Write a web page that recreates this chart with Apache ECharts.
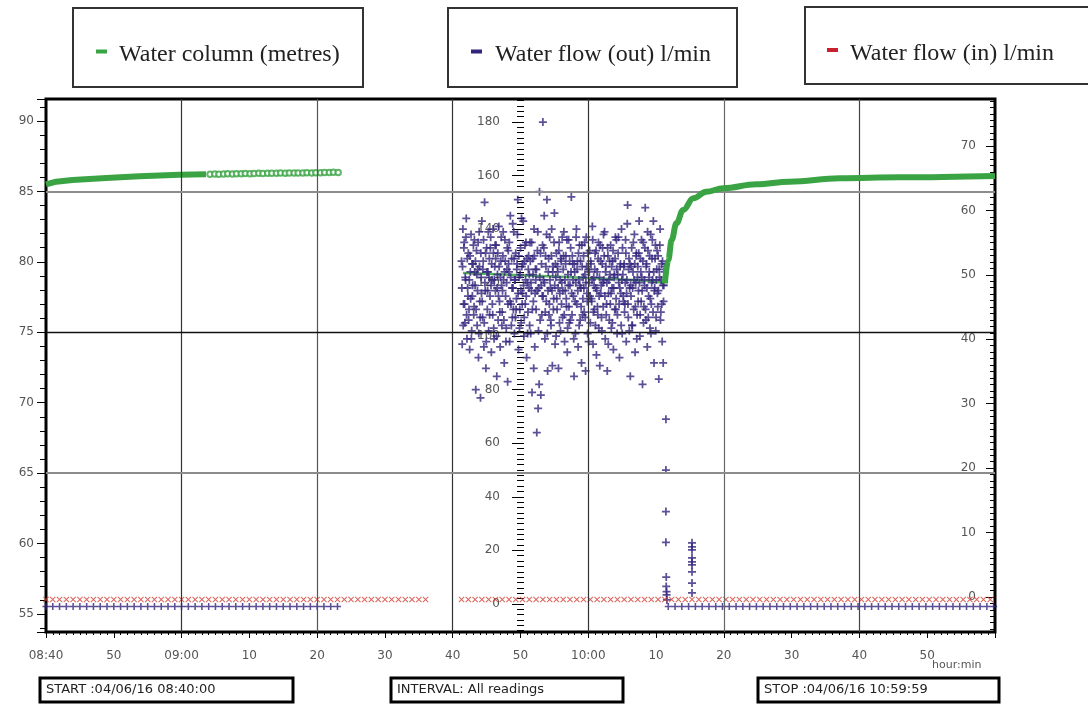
<!DOCTYPE html>
<html>
<head>
<meta charset="utf-8">
<script src="https://cdn.jsdelivr.net/npm/echarts@6/dist/echarts.min.js"></script>
<style>
  html, body { margin: 0; padding: 0; background: #fff; }
  #chart { width: 1088px; height: 704px; }
</style>
</head>
<body>
<div id="chart"></div>
<script>
// x values are minutes after 08:40
const xTickLabels = ['08:40', '50', '09:00', '10', '20', '30', '40', '50', '10:00', '10', '20', '30', '40', '50', ''];

// water column (metres), left axis
const colLeftTimes = [0, 1.5, 3.9, 8.9, 13.8, 19.7, 23.6];
const colLeftValues = [85.5, 85.69, 85.81, 85.95, 86.07, 86.19, 86.22];
const colCircleTimes = [24.2, 24.9, 25.5, 26.2, 26.8, 27.5, 28.1, 28.8, 29.4, 30.1, 30.7, 31.4, 32.0, 32.7, 33.3,
  34.0, 34.6, 35.3, 35.9, 36.6, 37.2, 37.9, 38.5, 39.2, 39.8, 40.5, 41.1, 41.8, 42.4, 43.1];
const colCircleValues = [86.22, 86.23, 86.22, 86.24, 86.25, 86.24, 86.26, 86.25, 86.27, 86.26, 86.27, 86.28, 86.27, 86.29, 86.28,
  86.29, 86.3, 86.29, 86.3, 86.31, 86.3, 86.31, 86.32, 86.31, 86.33, 86.32, 86.34, 86.35, 86.36, 86.35];
const colMidTimes = [61.5, 65, 70, 75, 80, 85, 89, 91.2];
const colMidValues = [79.2, 79.15, 79.05, 78.95, 78.85, 78.75, 78.65, 78.5];
const colRightTimes = [91.3, 91.8, 92.3, 93.0, 94.0, 95.5, 97.4, 99.9, 104.8, 109.7, 117.1, 126, 140];
const colRightValues = [78.47, 80.13, 81.55, 82.74, 83.68, 84.51, 84.98, 85.22, 85.51, 85.69, 85.93, 86.0, 86.1];

// water flow (out) l/min, middle axis: two logger channels, each read every 6 s
const flowOutStart = 61.3;
const flowOutStep = 0.1;
const flowOutValues = [
  128, 97, 140, 112, 135, 105, 121, 144, 99, 118,
  131, 110, 95, 124, 138, 102, 115, 127, 108, 136,
  119, 80, 132, 104, 125, 92, 139, 113, 77, 122,
  143, 107, 128, 96, 150, 117, 88, 133, 110, 124,
  102, 129, 115, 137, 94, 121, 108, 131, 99, 126,
  117, 134, 85, 123, 106, 141, 113, 96, 128, 119,
  109, 130, 121, 90, 136, 115, 103, 125, 83, 132,
  124, 98, 145, 112, 129, 107, 118, 139, 101, 121,
  131, 114, 127, 151, 95, 122, 110, 133, 105, 126,
  116, 143, 100, 128, 112, 135, 92, 120, 109, 130,
  123, 135, 101, 117, 79, 129, 113, 140, 96, 125,
  110, 64, 132, 73, 118, 154, 106, 78, 127, 115,
  180, 121, 145, 99, 130, 113, 151, 87, 124, 108,
  137, 118, 104, 140, 89, 126, 114, 146, 97, 122,
  131, 110, 124, 88, 135, 116, 102, 128, 120, 107,
  125, 139, 98, 117, 130, 111, 94, 123, 136, 105,
  119, 133, 152, 108, 127, 115, 85, 124, 101, 137,
  112, 128, 96, 121, 134, 106, 118, 90, 126, 114,
  130, 109, 123, 87, 137, 116, 101, 125, 120, 132,
  105, 127, 113, 141, 97, 122, 110, 131, 118, 93,
  124, 108, 135, 115, 89, 128, 119, 102, 133, 111,
  121, 139, 99, 126, 112, 87, 130, 116, 106, 123,
  134, 103, 118, 128, 95, 122, 110, 137, 114, 125,
  108, 131, 120, 92, 126, 116, 140, 101, 123, 113,
  127, 112, 136, 98, 121, 149, 107, 129, 118, 85,
  115, 133, 104, 124, 110, 138, 94, 120, 131, 108,
  126, 117, 143, 100, 129, 113, 122, 82, 135, 111,
  119, 148, 106, 127, 96, 132, 115, 124, 103, 138,
  112, 129, 121, 143, 90, 118, 134, 107, 125, 116,
  130, 84, 122, 140, 109, 127, 98, 119, 113, 124
];
const flowOutStartB = 61.35;
const flowOutValuesB = [
  118, 126, 104, 133, 112, 122, 137, 108, 129, 115,
  106, 121, 130, 114, 99, 127, 119, 134, 111, 124,
  128, 110, 123, 117, 135, 101, 126, 107, 131, 116,
  113, 125, 136, 105, 120, 131, 98, 124, 117, 139,
  122, 108, 133, 119, 127, 112, 140, 103, 121, 134,
  129, 100, 118, 131, 115, 126, 109, 122, 137, 104,
  117, 139, 106, 124, 128, 98, 120, 133, 112, 127,
  135, 113, 122, 104, 118, 142, 110, 129, 121, 107,
  110, 125, 138, 116, 130, 103, 123, 117, 144, 112,
  127, 119, 107, 134, 121, 115, 129, 101, 125, 118,
  104, 128, 120, 135, 110, 123, 88, 130, 116, 121,
  125, 117, 139, 102, 82, 122, 131, 119, 108, 134,
  115, 133, 120, 109, 126, 138, 101, 117, 129, 112,
  121, 106, 130, 117, 124, 110, 135, 119, 127, 100,
  114, 126, 118, 132, 105, 121, 129, 112, 137, 117,
  130, 108, 121, 127, 114, 136, 103, 119, 111, 128,
  106, 124, 116, 130, 121, 99, 127, 113, 120, 140,
  125, 117, 131, 104, 119, 128, 111, 134, 108, 122,
  118, 135, 107, 120, 126, 113, 131, 98, 124, 115,
  128, 114, 121, 136, 109, 119, 125, 104, 132, 117,
  111, 129, 103, 122, 134, 116, 107, 127, 120, 138,
  130, 115, 124, 108, 120, 133, 97, 121, 128, 112,
  116, 126, 105, 132, 118, 123, 129, 110, 136, 101,
  123, 137, 112, 118, 127, 104, 121, 133, 115, 126,
  109, 120, 131, 116, 142, 112, 125, 102, 127, 119,
  126, 104, 118, 135, 121, 127, 111, 130, 99, 122,
  113, 131, 120, 108, 124, 136, 117, 128, 105, 121,
  133, 110, 126, 118, 139, 107, 122, 130, 114, 101,
  120, 136, 109, 124, 117, 129, 102, 121, 132, 111,
  117, 125, 134, 106, 121, 112, 128, 90, 119, 126
];
// the drop after 10:11 and the short burst at 10:15
const flowOutDropTimes = [91.45, 91.45, 91.45, 91.45, 91.5, 91.5, 91.55, 91.55, 91.6, 95.3, 95.3, 95.3, 95.3, 95.3, 95.3, 95.3, 95.3, 95.3];
const flowOutDropValues = [69, 50, 34.5, 23, 10, 6.5, 4.6, 3.4, 1.5, 22.8, 21.3, 20.2, 17.2, 15.7, 14.6, 12, 7.8, 4.1];
// idle readings (one a minute)
const flowOutIdleSpans = [[0, 43.5], [91.8, 139.8]];
const flowOutIdleValue = -1.0;

// water flow (in) l/min, right axis
const flowInIdleSpans = [[0, 56.3], [61.3, 139.8]];
const flowInIdleValue = -0.4;

const GREEN = '#3aa444';
const NAVY = '#33247d';
const RED = '#d23a2e';
const plusPath = 'path://M3.9,0H6.1V3.9H10V6.1H6.1V10H3.9V6.1H0V3.9H3.9Z';
const crossPath = 'path://M0,1.1L1.1,0L5,3.9L8.9,0L10,1.1L6.1,5L10,8.9L8.9,10L5,6.1L1.1,10L0,8.9L3.9,5Z';

const zip = (xs, ys) => xs.map((x, i) => [x, ys[i]]);
const everyMinute = (spans, value) => {
  const out = [];
  spans.forEach(([a, b]) => { for (let t = a; t <= b + 1e-9; t += 1) out.push([t, value]); });
  return out;
};
const isMultiple = (v, step) => Math.abs(v / step - Math.round(v / step)) < 1e-6;

const myChart = echarts.init(document.getElementById('chart'));

const grey = '#8c8c8c';
const plusSeries = (data) => ({
  name: 'Water flow (out) l/min', type: 'scatter', yAxisIndex: 1, z: 4,
  data, symbol: plusPath, symbolSize: 8,
  itemStyle: { color: NAVY }
});

const option = {
  animation: false,
  backgroundColor: '#fff',
  grid: {
    left: 46, top: 99, width: 949, height: 533,
    show: true, borderColor: '#000', borderWidth: 3, backgroundColor: 'transparent'
  },
  xAxis: {
    type: 'value', min: 0, max: 140, interval: 10,
    axisLine: { show: false, onZero: false },
    axisTick: { show: true, length: 6, lineStyle: { color: '#000' } },
    minorTick: { show: true, splitNumber: 10, length: 3, lineStyle: { color: '#000' } },
    splitLine: { show: false },
    axisLabel: {
      margin: 18, color: '#555', fontSize: 12, fontFamily: 'DejaVu Sans',
      formatter: v => xTickLabels[Math.round(v / 10)] || ''
    }
  },
  yAxis: [
    {
      type: 'value', min: 53.72, max: 91.56, splitNumber: 8, position: 'left',
      axisLine: { show: false, onZero: false },
      axisTick: { show: true, length: 9, lineStyle: { color: '#000' } },
      minorTick: { show: true, splitNumber: 5, length: 6, lineStyle: { color: '#000' } },
      splitLine: { show: false },
      axisLabel: {
        margin: 12, color: '#555', fontSize: 12, fontFamily: 'DejaVu Sans',
        formatter: v => isMultiple(v, 5) ? String(Math.round(v)) : ''
      }
    },
    {
      type: 'value', min: -10.5, max: 188.6, splitNumber: 10, position: 'left', offset: -478,
      axisLine: { show: false, onZero: false },
      axisTick: { show: true, length: 12, lineStyle: { color: '#000' } },
      minorTick: { show: true, splitNumber: 10, length: 7, lineStyle: { color: '#000' } },
      splitLine: { show: false },
      axisLabel: {
        margin: 24, color: '#555', fontSize: 12, fontFamily: 'DejaVu Sans',
        formatter: v => isMultiple(v, 20) ? String(Math.round(v)) : ''
      }
    },
    {
      type: 'value', min: -5.44, max: 77.3, splitNumber: 8, position: 'right',
      axisLine: { show: false, onZero: false },
      axisTick: { show: true, inside: true, length: 9, lineStyle: { color: '#000' } },
      minorTick: { show: true, splitNumber: 10, length: 5, lineStyle: { color: '#000' } },
      splitLine: { show: false },
      axisLabel: {
        inside: true, margin: 19, color: '#555', fontSize: 12, fontFamily: 'DejaVu Sans',
        formatter: v => isMultiple(v, 10) ? String(Math.round(v)) : ''
      }
    }
  ],
  graphic: [
    // legend boxes
    { type: 'rect', shape: { x: 73, y: 8, width: 290, height: 79 }, style: { fill: '#fff', stroke: '#333', lineWidth: 2 } },
    { type: 'rect', shape: { x: 96, y: 49.5, width: 11, height: 4 }, style: { fill: GREEN } },
    { type: 'text', x: 119, y: 55, style: { text: 'Water column (metres)', font: '24px "Liberation Serif"', fill: '#222', verticalAlign: 'middle' } },
    { type: 'rect', shape: { x: 448, y: 8, width: 289, height: 79 }, style: { fill: '#fff', stroke: '#333', lineWidth: 2 } },
    { type: 'rect', shape: { x: 471, y: 49.5, width: 11, height: 4 }, style: { fill: NAVY } },
    { type: 'text', x: 495, y: 55, style: { text: 'Water flow (out) l/min', font: '24px "Liberation Serif"', fill: '#222', verticalAlign: 'middle' } },
    { type: 'rect', shape: { x: 805, y: 7, width: 300, height: 77 }, style: { fill: '#fff', stroke: '#333', lineWidth: 2 } },
    { type: 'rect', shape: { x: 827, y: 48, width: 11, height: 4 }, style: { fill: '#c8202f' } },
    { type: 'text', x: 850, y: 54, style: { text: 'Water flow (in) l/min', font: '24px "Liberation Serif"', fill: '#222', verticalAlign: 'middle' } },
    // axis unit
    { type: 'text', x: 932, y: 665, style: { text: 'hour:min', font: '11px "DejaVu Sans"', fill: '#555', verticalAlign: 'middle' } },
    // footer boxes
    { type: 'rect', shape: { x: 40, y: 678, width: 253, height: 24 }, style: { fill: '#fff', stroke: '#000', lineWidth: 3 } },
    { type: 'text', x: 46, y: 690, style: { text: 'START :04/06/16 08:40:00', font: '13px "DejaVu Sans"', fill: '#222', verticalAlign: 'middle' } },
    { type: 'rect', shape: { x: 391, y: 678, width: 232, height: 24 }, style: { fill: '#fff', stroke: '#000', lineWidth: 3 } },
    { type: 'text', x: 397, y: 690, style: { text: 'INTERVAL: All readings', font: '13px "DejaVu Sans"', fill: '#222', verticalAlign: 'middle' } },
    { type: 'rect', shape: { x: 758, y: 678, width: 241, height: 24 }, style: { fill: '#fff', stroke: '#000', lineWidth: 3 } },
    { type: 'text', x: 764, y: 690, style: { text: 'STOP :04/06/16 10:59:59', font: '13px "DejaVu Sans"', fill: '#222', verticalAlign: 'middle' } }
  ],
  series: [
    {
      // grid lines
      type: 'line', data: [], z: 1,
      markLine: {
        silent: true, symbol: 'none', label: { show: false },
        data: [
          { xAxis: 20, lineStyle: { color: '#333', width: 1.2, type: 'solid' } },
          { xAxis: 40, lineStyle: { color: '#555', width: 1.2, type: 'solid' } },
          { xAxis: 60, lineStyle: { color: '#333', width: 1.2, type: 'solid' } },
          { xAxis: 80, lineStyle: { color: '#333', width: 1.2, type: 'solid' } },
          { xAxis: 100, lineStyle: { color: '#666', width: 1.2, type: 'solid' } },
          { xAxis: 120, lineStyle: { color: '#444', width: 1.2, type: 'solid' } },
          { yAxis: 85, lineStyle: { color: grey, width: 1.8, type: 'solid' } },
          { yAxis: 75, lineStyle: { color: '#111', width: 1.4, type: 'solid' } },
          { yAxis: 65, lineStyle: { color: grey, width: 1.8, type: 'solid' } }
        ]
      }
    },
    {
      name: 'Water column (metres)', type: 'line', yAxisIndex: 0, z: 3,
      data: zip(colLeftTimes, colLeftValues), showSymbol: false,
      lineStyle: { color: GREEN, width: 6 }
    },
    {
      name: 'Water column (metres)', type: 'scatter', yAxisIndex: 0, z: 3,
      data: zip(colCircleTimes, colCircleValues),
      symbol: 'emptyCircle', symbolSize: 5.5,
      itemStyle: { color: GREEN, borderColor: GREEN, borderWidth: 1.3 }
    },
    {
      name: 'Water column (metres)', type: 'line', yAxisIndex: 0, z: 2,
      data: zip(colMidTimes, colMidValues), showSymbol: false,
      lineStyle: { color: GREEN, width: 2.5, opacity: 0.85 }
    },
    plusSeries(flowOutValues.map((v, i) => [flowOutStart + i * flowOutStep, v])),
    plusSeries(flowOutValuesB.map((v, i) => [flowOutStartB + i * flowOutStep, v])),
    {
      name: 'Water column (metres)', type: 'line', yAxisIndex: 0, z: 5,
      data: zip(colRightTimes, colRightValues), showSymbol: false,
      smooth: 0.4, smoothMonotone: 'x',
      lineStyle: { color: GREEN, width: 6 }
    },
    plusSeries(zip(flowOutDropTimes, flowOutDropValues)),
    Object.assign(plusSeries(everyMinute(flowOutIdleSpans, flowOutIdleValue)), { symbolSize: 7 }),
    {
      name: 'Water flow (in) l/min', type: 'scatter', yAxisIndex: 2, z: 4,
      data: everyMinute(flowInIdleSpans, flowInIdleValue),
      symbol: crossPath, symbolSize: 6,
      itemStyle: { color: RED }
    }
  ]
};

myChart.setOption(option);
</script>
</body>
</html>
